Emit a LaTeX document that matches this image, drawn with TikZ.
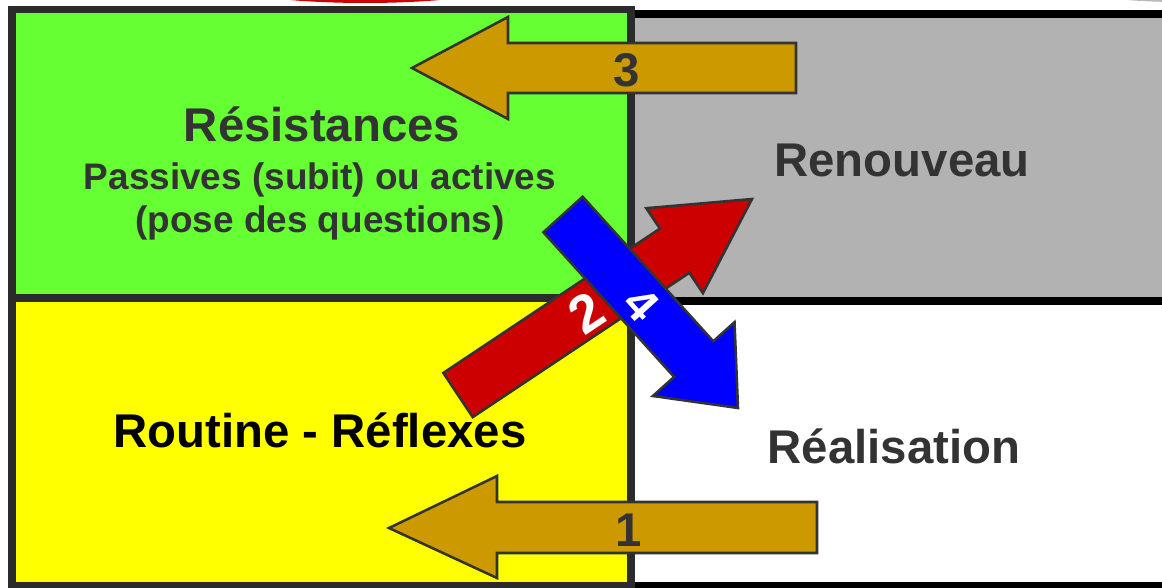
\documentclass[tikz,border=0pt]{standalone}
\usepackage{fontspec}
\setmainfont{Liberation Sans}
\definecolor{greenbox}{HTML}{66FF33}
\definecolor{yellowbox}{HTML}{FFFF00}
\definecolor{graybox}{HTML}{B2B2B2}
\definecolor{border}{HTML}{2B2B2B}
\definecolor{goldc}{HTML}{CC9900}
\definecolor{redc}{HTML}{CC0000}
\definecolor{bluec}{HTML}{0000FF}
\definecolor{txt}{HTML}{333333}
\tikzset{
  quad/.style={line width=5.6pt, draw=border},
  bigarrow/.style={draw=txt, line width=1.9pt, line join=miter},
  bigtext/.style={font=\bfseries\fontsize{35.5}{40}\selectfont, text=txt, inner sep=0pt, anchor=base},
  smalltext/.style={font=\bfseries\fontsize{27.7}{32}\selectfont, text=txt, inner sep=0pt, anchor=base},
  numtext/.style={font=\bfseries\fontsize{35.5}{40}\selectfont, inner sep=0pt},
}
\begin{document}
\begin{tikzpicture}[x=0.75pt,y=-0.75pt]
\useasboundingbox (0,0) rectangle (1162,588);
\clip (0,0) rectangle (1162,588);
\fill[white] (0,0) rectangle (1162,588);
% partial shapes at the top edge
\fill[redc] (365,-22.6) ellipse [x radius=160, y radius=25.6];
\fill[gray!55] (1178,-23) ellipse [x radius=130, y radius=25];
% right quadrants
\draw[quad, draw=black, fill=graybox] (631,14) rectangle (1180,301);
\draw[quad, draw=black, fill=white] (631,301) rectangle (1180,586);
% left quadrants
\draw[quad, fill=greenbox] (12,9.5) rectangle (631,298);
\draw[quad, fill=yellowbox] (12,298) rectangle (631,586);
% gold arrows
\draw[bigarrow, fill=goldc] (412,68) -- (508,17) -- (508,43) -- (796,43) -- (796,93) -- (508,93) -- (508,119) -- cycle;
\draw[bigarrow, fill=goldc] (389,528) -- (497,476) -- (497,502) -- (817,502) -- (817,553) -- (497,553) -- (497,578) -- cycle;
\node[numtext, text=txt, anchor=base] (n3) at (627,87) {3};
\node[numtext, text=txt, anchor=base] (n1) at (629,546) {1};
% red arrow
\draw[bigarrow, fill=redc] (443.3,372.9) -- (659.9,228.6) -- (646.3,208.2) -- (752,199) -- (702.9,293.2) -- (689.3,272.8) -- (472.7,417.1) -- cycle;
\node[numtext, text=white, rotate=33.7, font=\bfseries\fontsize{40}{44}\selectfont] (n2) at (586,313) {2};
% blue arrow
\draw[bigarrow, fill=bluec] (582.6,196.7) -- (713.3,341.3) -- (734.5,322.2) -- (738,408) -- (652.9,396) -- (674.1,376.9) -- (543.4,232.3) -- cycle;
\node[numtext, text=white, rotate=-47.9] (n4) at (641,304) {4};
% texts
\node[bigtext] (res) at (322,142) {Résistances};
\node[smalltext] (pas) at (320,189) {Passives (subit) ou actives};
\node[smalltext] (pose) at (320,232) {(pose des questions)};
\node[bigtext] (ren) at (902,176) {Renouveau};
\node[bigtext, text=black] (rou) at (320,447) {Routine - Réflexes};
\node[bigtext] (rea) at (894,463) {Réalisation};
\end{tikzpicture}
\end{document}
